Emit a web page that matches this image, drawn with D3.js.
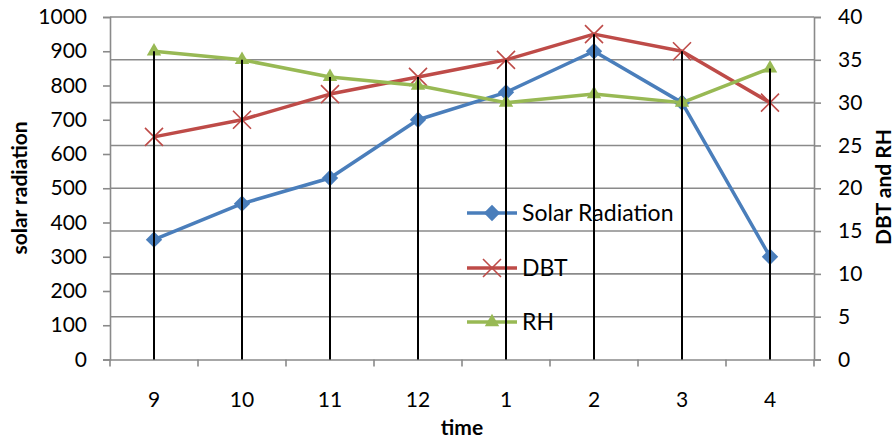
<!DOCTYPE html>
<html>
<head>
<meta charset="utf-8">
<script src="https://cdn.jsdelivr.net/npm/d3@7/dist/d3.min.js"></script>
<style>
  html, body { margin: 0; padding: 0; background: #fff; }
  svg { display: block; font-family: Lato, "Open Sans", sans-serif; }
</style>
</head>
<body>
<svg id="chart" width="895" height="439"></svg>
<script>
// Hourly readings
const times = ["9", "10", "11", "12", "1", "2", "3", "4"];
const solarRadiation = [350, 455, 530, 700, 780, 900, 750, 300];
const dbt = [26, 28, 31, 33, 35, 38, 36, 30];
const rh = [36, 35, 33, 32, 30, 31, 30, 34];

const leftTicks = [0, 100, 200, 300, 400, 500, 600, 700, 800, 900, 1000];
const rightTicks = [0, 5, 10, 15, 20, 25, 30, 35, 40];

const plot = { left: 110, right: 814, top: 17, bottom: 359.5 };
const fontFamily = "Lato, 'Open Sans', sans-serif";

const svg = d3.select("#chart");

const x = d3.scaleBand().domain(times).range([plot.left, plot.right]).padding(0);
const yL = d3.scaleLinear().domain([0, 1000]).range([plot.bottom, plot.top]);
const yR = d3.scaleLinear().domain([0, 40]).range([plot.bottom, plot.top]);
const cx = d => x(d) + x.bandwidth() / 2;

const gridColor = "#8a8a8a";
const tickFont = 21;

// Horizontal gridlines follow the secondary axis
svg.append("g").selectAll("line")
  .data(rightTicks.filter(t => t > 0))
  .join("line")
  .attr("x1", plot.left).attr("x2", plot.right)
  .attr("y1", d => yR(d)).attr("y2", d => yR(d))
  .attr("stroke", gridColor).attr("stroke-width", 1.6);

// Left axis
const gL = svg.append("g").attr("transform", `translate(${plot.left},0)`)
  .call(d3.axisLeft(yL).tickValues(leftTicks).tickFormat(d3.format("d")).tickSize(7).tickPadding(16));
// Right axis
const gR = svg.append("g").attr("transform", `translate(${plot.right},0)`)
  .call(d3.axisRight(yR).tickValues(rightTicks).tickFormat(d3.format("d")).tickSize(7).tickPadding(17));
// Bottom axis; its ticks sit on category boundaries
const gB = svg.append("g").attr("transform", `translate(0,${plot.bottom})`)
  .call(d3.axisBottom(x).tickSize(0).tickPadding(33));
svg.append("g").selectAll("line")
  .data(d3.range(times.length + 1))
  .join("line")
  .attr("x1", i => plot.left + i * x.bandwidth())
  .attr("x2", i => plot.left + i * x.bandwidth())
  .attr("y1", plot.bottom).attr("y2", plot.bottom + 7)
  .attr("stroke", gridColor).attr("stroke-width", 1.6);

[gL, gR, gB].forEach(g => {
  g.attr("font-family", fontFamily).attr("font-size", tickFont);
  g.selectAll("path.domain").attr("stroke", gridColor).attr("stroke-width", 1.6);
  g.selectAll(".tick line").attr("stroke", gridColor).attr("stroke-width", 1.6);
  g.selectAll(".tick text").attr("fill", "#000");
});

// Series definitions
const series = [
  { name: "Solar Radiation", values: solarRadiation, y: yL, color: "#4a7ebb", marker: "diamond" },
  { name: "DBT", values: dbt, y: yR, color: "#be4b48", marker: "x" },
  { name: "RH", values: rh, y: yR, color: "#98b954", marker: "triangle" }
];

function drawMarker(g, type, color) {
  if (type === "diamond") {
    g.append("path").attr("d", d3.symbol(d3.symbolDiamond2, 170)())
      .attr("fill", color);
  } else if (type === "x") {
    g.append("path").attr("d", "M-9,-9L9,9M-9,9L9,-9")
      .attr("stroke", color).attr("stroke-width", 1.6).attr("fill", "none");
  } else {
    g.append("path").attr("d", d3.symbol(d3.symbolTriangle, 90)())
      .attr("fill", color);
  }
}

// Legend (drawn beneath the drop lines)
const legend = svg.append("g").attr("font-family", fontFamily);
const legendY = [213, 268, 322];
series.forEach((s, i) => {
  const row = legend.append("g").attr("transform", `translate(467,${legendY[i]})`);
  row.append("line").attr("x1", 0).attr("x2", 50)
    .attr("stroke", s.color).attr("stroke-width", 3.5);
  drawMarker(row.append("g").attr("transform", "translate(25,0)"), s.marker, s.color);
  row.append("text").attr("x", 55).attr("dy", "0.36em")
    .attr("font-size", 23).text(s.name);
});

// Lines and markers
series.forEach(s => {
  const line = d3.line().x((d, i) => cx(times[i])).y(d => s.y(d));
  svg.append("path").datum(s.values).attr("d", line)
    .attr("fill", "none").attr("stroke", s.color).attr("stroke-width", 3.5)
    .attr("stroke-linejoin", "round");
  s.values.forEach((v, i) => {
    drawMarker(svg.append("g").attr("transform", `translate(${cx(times[i])},${s.y(v)})`), s.marker, s.color);
  });
});

// Drop lines from the highest point at each time down to the category axis
svg.append("g").selectAll("line")
  .data(times)
  .join("line")
  .attr("x1", d => cx(d)).attr("x2", d => cx(d))
  .attr("y1", (d, i) => d3.min(series, s => s.y(s.values[i])))
  .attr("y2", plot.bottom)
  .attr("stroke", "#000").attr("stroke-width", 2);

// Axis titles
const titles = svg.append("g").attr("font-family", fontFamily)
  .attr("font-weight", "bold").attr("font-size", 21).attr("text-anchor", "middle");
titles.append("text")
  .attr("transform", "translate(27,188) rotate(-90)")
  .text("solar radiation");
titles.append("text")
  .attr("transform", "translate(891,187) rotate(-90)")
  .text("DBT and RH");
titles.append("text")
  .attr("x", (plot.left + plot.right) / 2).attr("y", 435)
  .text("time");
</script>
</body>
</html>
